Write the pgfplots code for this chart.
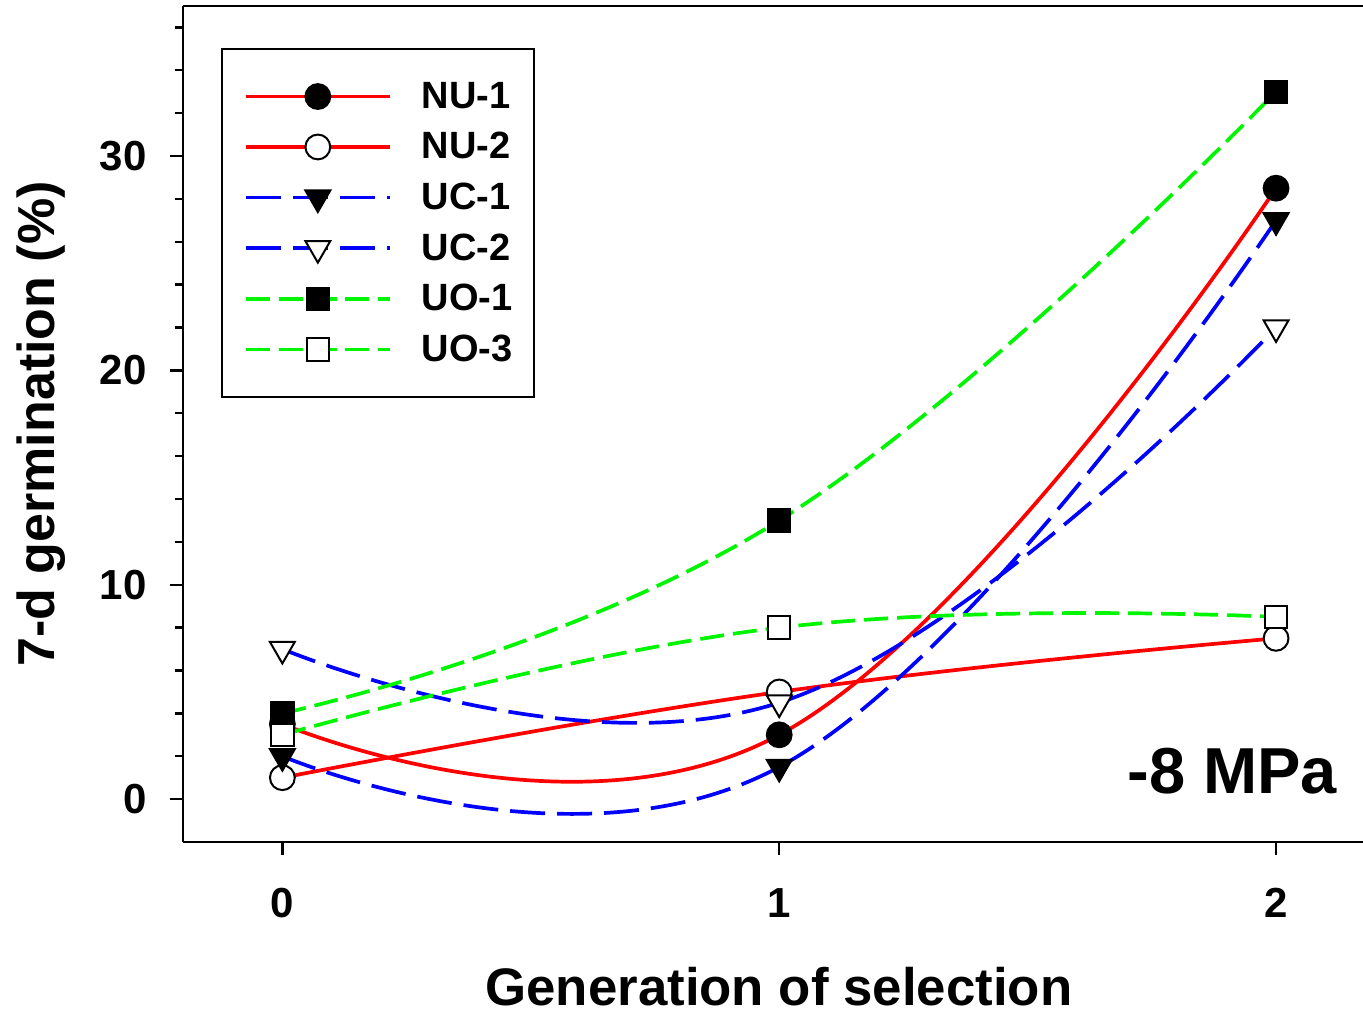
\documentclass[border=0pt]{standalone}
\usepackage{fontspec}
\setmainfont{Liberation Sans}
\usepackage{pgfplots}
\pgfplotsset{compat=1.18}

\definecolor{cred}{RGB}{255,0,0}
\definecolor{cblue}{RGB}{0,0,255}
\definecolor{cgreen}{RGB}{0,245,0}

\pgfplotsset{
  curve/.style={line width=1.85pt, smooth, tension=0.75},
  nu/.style={curve, cred, solid, mark=*, mark size=6.2pt},
  uc/.style={curve, cblue, dash pattern=on 17.5pt off 6pt, mark=triangle*, mark size=7.2pt},
  uo/.style={curve, cgreen, dash pattern=on 12pt off 4.5pt, mark=square*, mark size=5.6pt},
}

\begin{document}
\begin{tikzpicture}
\begin{axis}[
  name=ax,
  scale only axis,
  width=590pt, height=418pt,
  xmin=-0.2, xmax=2.175,
  ymin=-2, ymax=37,
  axis x line*=bottom, axis y line*=left,
  axis line style={-, line width=1.2pt},
  xtick={0,1,2},
  ytick={0,10,20,30},
  minor ytick={2,4,6,8,12,14,16,18,22,24,26,28,32,34,36},
  tick align=outside,
  major tick length=6.5pt, minor tick length=4pt,
  tick style={line width=1.2pt, black},
  /pgf/number format/assume math mode=true,
  ticklabel style={font=\bfseries\fontsize{21}{21}\selectfont, inner sep=0pt},
  yticklabel style={xshift=-11.5pt},
  xticklabel style={yshift=-16.5pt},
  xlabel={Generation of selection},
  ylabel={7-d germination (\%)},
  every axis x label/.style={at={(axis description cs:0.505,-0.195)}, anchor=base,
    font=\bfseries\fontsize{26.4}{26.4}\selectfont},
  every axis y label/.style={at={(axis description cs:-0.1085,0.5)}, rotate=90, anchor=base,
    font=\bfseries\fontsize{26}{26}\selectfont},
  legend style={at={(axis description cs:0.0322,0.9498)}, anchor=north west,
    draw=black, line width=1pt, fill=white,
    font=\bfseries\fontsize{19}{19}\selectfont,
    inner xsep=11pt, inner ysep=16.5pt,
    nodes={inner sep=0pt}, row sep=10.55pt,
    /tikz/every odd column/.append style={column sep=15pt}},
  legend cell align=left,
  every legend image post/.style={line width=1.85pt},
  legend image code/.code={
    \draw[mark repeat=2, mark phase=2, #1] plot coordinates {(0pt,0pt) (36pt,0pt) (72pt,0pt)};
  },
]
\addplot[nu, mark options={solid, draw=black, fill=black, line width=1pt}]
  coordinates {(0,3.5) (1,3) (2,28.5)};
\addplot[nu, mark options={solid, draw=black, fill=white, line width=1pt}]
  coordinates {(0,1) (1,5) (2,7.5)};
\addplot[uc, mark options={solid, rotate=180, draw=black, fill=black, line width=1pt}]
  coordinates {(0,2) (1,1.5) (2,27)};
\addplot[uc, mark options={solid, rotate=180, draw=black, fill=white, line width=1pt}]
  coordinates {(0,7) (1,4.5) (2,22)};
\addplot[uo, mark options={solid, draw=black, fill=black, line width=1pt}]
  coordinates {(0,4) (1,13) (2,33)};
\addplot[uo, mark options={solid, draw=black, fill=white, line width=1pt}]
  coordinates {(0,3) (1,8) (2,8.5)};
\legend{NU-1, NU-2, UC-1, UC-2, UO-1, UO-3}
\draw[line width=1.2pt] (rel axis cs:0,1) -- (rel axis cs:1,1);
\node[anchor=base east, font=\bfseries\fontsize{32.5}{32.5}\selectfont]
  at (axis cs:2.137,0.28) {-8 MPa};
\end{axis}
\pgfresetboundingbox
\path (ax.south west) ++(-91.5pt,-86.5pt) rectangle ++(681.5pt,507.5pt);
\end{tikzpicture}
\end{document}
